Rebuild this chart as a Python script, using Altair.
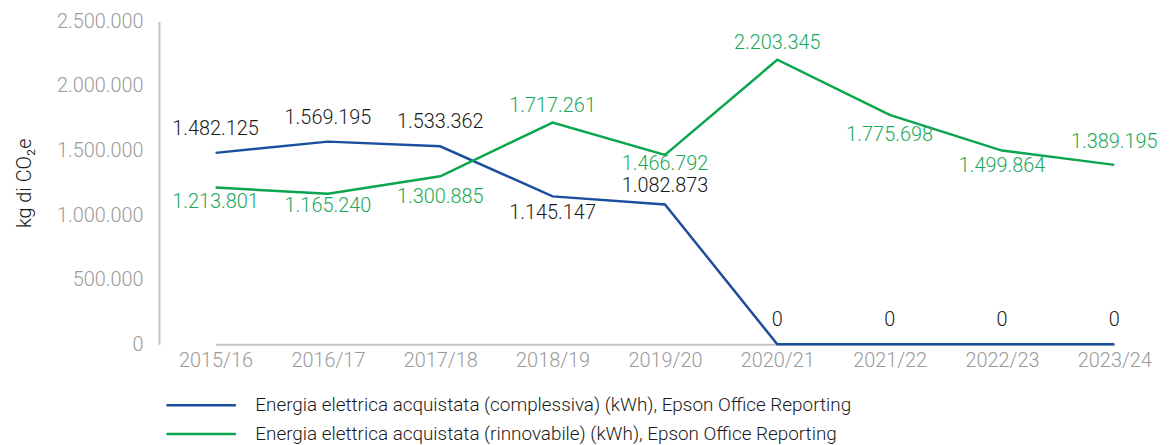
import altair as alt
import pandas as pd

years = ["2015/16", "2016/17", "2017/18", "2018/19", "2019/20",
         "2020/21", "2021/22", "2022/23", "2023/24"]
series_names = [
    "Energia elettrica acquistata (complessiva) (kWh), Epson Office Reporting",
    "Energia elettrica acquistata (rinnovabile) (kWh), Epson Office Reporting",
]
total_values = [1482125, 1569195, 1533362, 1145147, 1082873, 0, 0, 0, 0]
renew_values = [1213801, 1165240, 1300885, 1717261, 1466792, 2203345, 1775698, 1499864, 1389195]
# vertical shift (px) of each value label from its point
total_label_offsets = [-24, -24, -24, 17, -18, -24, -24, -24, -24]
renew_label_offsets = [15, 12, 21, -17, 9, -17, 20, 16, -23]

colors = ["#1c4e9e", "#0aa54f"]
label_colors = ["#1a1a1a", "#1aa85a"]

rows = []
for s, vals, offs in [(series_names[0], total_values, total_label_offsets),
                      (series_names[1], renew_values, renew_label_offsets)]:
    for y, v, o in zip(years, vals, offs):
        rows.append({"year": y, "series": s, "value": v, "off": o,
                     "label": f"{v:,}".replace(",", ".")})
df = pd.DataFrame(rows)

FONT = "Roboto"
FS = 20

x_enc = alt.X("year:N", sort=years,
              scale=alt.Scale(type="point", range=[57, 962], padding=0),
              axis=alt.Axis(title=None, labelAngle=0, labelFontSize=FS, labelColor="#9a9a9a",
                            labelFont=FONT, labelFontWeight=300, labelPadding=6,
                            ticks=False, domainColor="#c4c4c4", domainWidth=2, grid=False))
y_enc = alt.Y("value:Q", scale=alt.Scale(domain=[0, 2500000], nice=False),
              axis=alt.Axis(title="kg di CO₂e", titleFontSize=FS, titleFontWeight=300,
                            titleFont=FONT, titleColor="#1a1a1a", titlePadding=22,
                            values=[0, 500000, 1000000, 1500000, 2000000, 2500000],
                            labelExpr="replace(format(datum.value, ','), regexp(',', 'g'), '.')",
                            labelFontSize=FS, labelColor="#9a9a9a", labelFont=FONT,
                            labelFontWeight=300, labelPadding=16, ticks=False,
                            domainColor="#c4c4c4", domainWidth=2, grid=False))

lines = alt.Chart(df).mark_line(strokeWidth=2.5).encode(
    x=x_enc, y=y_enc,
    color=alt.Color("series:N", sort=series_names,
                    scale=alt.Scale(domain=series_names, range=colors),
                    legend=alt.Legend(title=None, orient="none", legendX=33, legendY=377,
                                      direction="vertical", symbolType="M-7,0L7,0",
                                      symbolSize=100, symbolStrokeWidth=2.5,
                                      labelFontSize=19, labelFont=FONT, labelFontWeight=300,
                                      labelColor="#1a1a1a", labelOffset=45, rowPadding=9,
                                      labelLimit=900)),
)

texts = []
for s, c in zip(series_names, label_colors):
    texts.append(
        alt.Chart(df)
        .transform_filter(alt.datum.series == s)
        .mark_text(fontSize=FS, font=FONT, fontWeight=300, color=c,
                   baseline="middle", dy={"expr": "datum.off"})
        .encode(x=x_enc, y=y_enc, text="label:N")
    )

chart = alt.layer(lines, *texts).properties(
    width=1005, height=325,
    autosize=alt.AutoSizeParams(type="none"),
    padding={"left": 152, "top": 12, "right": 6, "bottom": 110},
).configure_view(stroke=None)

chart.save("out.html", embed_options={"renderer": "svg", "actions": False})
